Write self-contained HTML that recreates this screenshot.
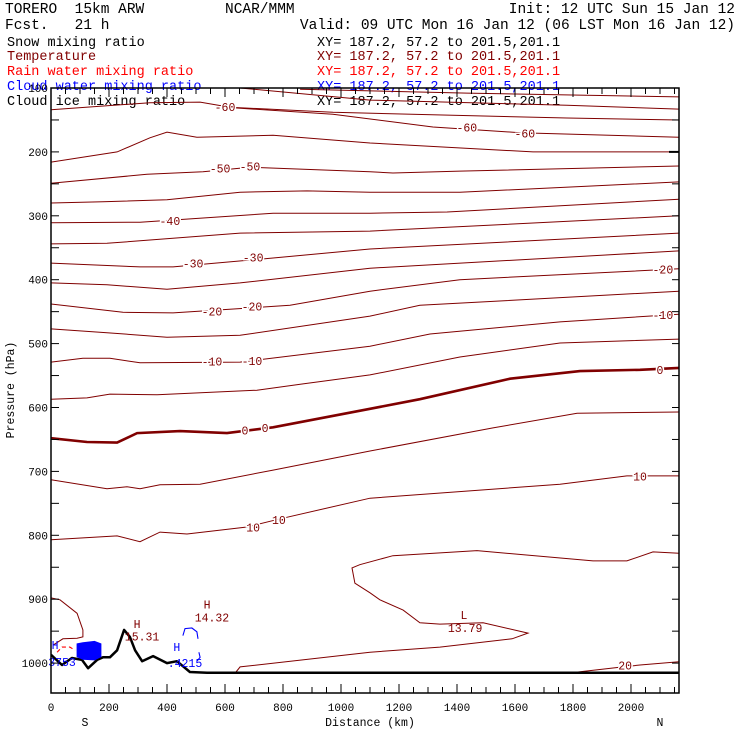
<!DOCTYPE html>
<html><head><meta charset="utf-8">
<style>
html,body{margin:0;padding:0;background:#fff;}
#wrap{position:relative;width:740px;height:740px;overflow:hidden;font-family:"Liberation Mono",monospace;}
.t{position:absolute;white-space:pre;font-size:14.5px;line-height:14px;}
.l{position:absolute;white-space:pre;font-size:13.5px;line-height:14px;}
svg{position:absolute;left:0;top:0;}
</style></head><body>
<div id="wrap">
<div class="t" style="left:5px;top:3px;">TORERO  15km ARW</div>
<div class="t" style="left:225px;top:3px;">NCAR/MMM</div>
<div class="t" style="right:5px;top:3px;">Init: 12 UTC Sun 15 Jan 12</div>
<div class="t" style="left:5px;top:19px;">Fcst.   21 h</div>
<div class="t" style="right:5px;top:19px;">Valid: 09 UTC Mon 16 Jan 12 (06 LST Mon 16 Jan 12)</div>
<div class="l" style="left:7px;top:37px;color:#000">Snow mixing ratio</div>
<div class="l" style="left:7px;top:51px;color:#800000">Temperature</div>
<div class="l" style="left:7px;top:66px;color:#ff0000">Rain water mixing ratio</div>
<div class="l" style="left:7px;top:81px;color:#0000ff">Cloud water mixing ratio</div>
<div class="l" style="left:7px;top:96px;color:#000">Cloud ice mixing ratio</div>
<div class="l" style="left:317px;top:37px;color:#000">XY= 187.2, 57.2 to 201.5,201.1</div>
<div class="l" style="left:317px;top:51px;color:#800000">XY= 187.2, 57.2 to 201.5,201.1</div>
<div class="l" style="left:317px;top:66px;color:#ff0000">XY= 187.2, 57.2 to 201.5,201.1</div>
<div class="l" style="left:317px;top:81px;color:#0000ff">XY= 187.2, 57.2 to 201.5,201.1</div>
<div class="l" style="left:317px;top:96px;color:#000">XY= 187.2, 57.2 to 201.5,201.1</div>
<svg id="chart" width="740" height="740"></svg>
</div>
<script>
// x ticks (km), y ticks (hPa)
const xTickLabels=[0,200,400,600,800,1000,1200,1400,1600,1800,2000];
const yTickLabels=[100,200,300,400,500,600,700,800,900,1000];
// temperature contours: [km, hPa] pairs
const c1=[[859,102],[1434,108],[2166,114]];
const c2=[[652,100],[1100,119],[1779,127],[2166,133]];
const c3=[[0,134],[341,123],[514,122],[617,130],[972,138],[1779,147],[2166,150]];
const c4=[[628,131],[972,141],[1317,161],[1617,170],[2166,177]];
const c5=[[0,216],[228,200],[341,178],[400,169],[503,177],[766,174],[1100,186],[1662,200],[2166,200]];
const c6=[[0,249],[331,235],[524,231],[686,224],[1100,231],[1179,233],[1410,230],[2166,222]];
const c7=[[0,280],[179,278],[400,275],[652,263],[883,261],[1100,263],[1410,263],[2166,247]];
const c8=[[0,311],[307,310],[410,307],[766,296],[1100,296],[1366,294],[2166,274]];
const c9=[[0,344],[193,343],[652,327],[1100,324],[2166,300]];
const c10=[[0,374],[307,380],[421,380],[766,366],[1100,352],[2166,327]];
const c11=[[0,405],[193,408],[400,415],[652,405],[1100,382],[2166,355]];
const c12=[[0,438],[248,451],[421,452],[824,440],[1100,418],[1410,400],[2166,383]];
const c13=[[0,477],[193,483],[400,490],[652,487],[1100,457],[1272,440],[2166,418]];
const c14=[[0,529],[110,523],[203,523],[307,530],[652,529],[1100,504],[1307,485],[1755,466],[2166,454]];
const c15=[[0,587],[124,585],[203,579],[366,580],[710,573],[869,563],[1100,549],[1410,521],[1755,499],[2166,493]];
const c16=[[0,648],[124,654],[228,655],[297,640],[445,637],[607,640],[766,631],[1100,602],[1272,587],[1583,555],[1824,543],[2031,541],[2166,538]];
const c17=[[0,713],[193,727],[262,724],[307,727],[376,721],[514,720],[766,698],[1100,668],[1524,632],[1814,609],[2166,607]];
const c18=[[0,807],[228,801],[307,810],[376,795],[469,798],[676,787],[783,775],[1100,742],[1755,720],[1986,707],[2166,707]];
const c19=[[2166,828],[2076,826],[1986,840],[1869,840],[1469,824],[1179,832],[1065,846],[1038,851],[1048,875],[1100,890],[1134,901],[1214,917],[1272,937],[1341,939],[1490,937],[1645,953],[1590,962],[1341,975],[1100,983],[652,1006],[638,1014]];
const c20=[[1817,1014],[1972,1006],[2031,1003],[2166,998]];
const c21=[[0,898],[31,901],[90,922],[110,948],[110,959],[90,961],[41,962],[7,972]];
const terrain=[[0,987],[38,1003],[72,992],[107,995],[128,1008],[159,995],[179,991],[203,991],[228,980],[252,948],[272,959],[290,980],[314,997],[352,989],[400,1000],[434,997],[479,1014],[538,1015],[572,1015],[2166,1015]];
const cloudA=[[455,957],[462,946],[486,945],[503,951],[507,962]];
const cloudB=[[510,983],[514,991],[503997/1000]];
cloudB[2]=[503,997];
const rainA=[[21,983],[38,975],[65,975],[83,980]];
const cloudBlob=[[90,970],[110,968],[150,966],[172,970],[172,990],[150,995],[110,994],[90,990]];
// contour labels: text, km, hPa
const labelText=["-60","-60","-60","-50","-50","-40","-30","-30","-20","-20","-20","-10","-10","-10","0","0","0","10","10","10","20"];
const labelKm=[600,1434,1634,583,686,410,490,697,555,693,2110,555,693,2110,669,738,2100,697,786,2031,1980];
const labelHPa=[130,162,171,226,223,308,375,365,450,442,384,528,527,455,636,632,541,788,776,708,1004];
const contours=[c1,c2,c3,c4,c5,c6,c7,c8,c9,c10,c11,c12,c13,c14,c15,c16,c17,c18,c19,c20,c21];
const contourNames=["isotherm-1","isotherm-2","isotherm-3","isotherm-minus60","isotherm-5","isotherm-minus50","isotherm-7","isotherm-minus40","isotherm-9","isotherm-minus30","isotherm-11","isotherm-minus20","isotherm-13","isotherm-minus10","isotherm-15","isotherm-0","isotherm-17","isotherm-10","isotherm-19","isotherm-20","isotherm-21"];

const L=51,R=679,T=88,B=693;
const X=km=>L+km*0.29;
const Y=p=>T+(p-100)*0.639;
const NS="http://www.w3.org/2000/svg";
const svg=document.getElementById('chart');
function mk(tag,attrs){const e=document.createElementNS(NS,tag);for(const k in attrs)e.setAttribute(k,attrs[k]);svg.appendChild(e);return e;}
function path(pts){return pts.map((p,i)=>(i?'L':'M')+X(p[0]).toFixed(1)+' '+Y(p[1]).toFixed(1)).join(' ');}

const clip=mk('clipPath',{id:'pc'});
const cr=document.createElementNS(NS,'rect');cr.setAttribute('x',L);cr.setAttribute('y',T);cr.setAttribute('width',R-L);cr.setAttribute('height',B-T);clip.appendChild(cr);

contours.forEach((c,i)=>{
  const e=mk('path',{d:path(c),fill:'none',stroke:'#800000','stroke-width':c===c16?2.6:1,'clip-path':'url(#pc)'});
  
  
});
let e=mk('path',{d:path(terrain),fill:'none',stroke:'#000','stroke-width':2.5,'stroke-linejoin':'round','clip-path':'url(#pc)'});


e=mk('path',{d:path(cloudA),fill:'none',stroke:'#0000ff','stroke-width':1.1});


e=mk('path',{d:path(cloudB),fill:'none',stroke:'#0000ff','stroke-width':1.1});


e=mk('path',{d:path(rainA),fill:'none',stroke:'#ff0000','stroke-width':1.1,'stroke-dasharray':'4 3'});


e=mk('path',{d:path(cloudBlob)+'Z',fill:'#0000ff',stroke:'#0000ff','stroke-width':1});



labelText.forEach((t,i)=>{
  const tx=mk('text',{x:X(labelKm[i]),y:Y(labelHPa[i])+4,'text-anchor':'middle','font-family':'Liberation Mono, monospace','font-size':11.5,fill:'#800000',stroke:'#fff','stroke-width':3,'paint-order':'stroke'});
  tx.textContent=t;
  
  
});
const extText=["H","14.32","H","15.31","L","13.79"];
const extKm=[538,555,297,314,1424,1428];
const extHPa=[908,929,939,958,925,945];
extText.forEach((t,i)=>{
  const tx=mk('text',{x:X(extKm[i]),y:Y(extHPa[i])+4,'text-anchor':'middle','font-family':'Liberation Mono, monospace','font-size':11.5,fill:'#800000'});
  tx.textContent=t;
  
  
});
const blueText=["H",".4215","H","3753"];
const blueKm=[434,462,14,38];
const blueHPa=[975,1000,972,998];
blueText.forEach((t,i)=>{
  const tx=mk('text',{x:X(blueKm[i]),y:Y(blueHPa[i])+4,'text-anchor':'middle','font-family':'Liberation Mono, monospace','font-size':11.5,fill:'#0000ff'});
  tx.textContent=t;
  
  
});

e=mk('rect',{x:L,y:T,width:R-L,height:B-T,fill:'none',stroke:'#000','stroke-width':1.5});


for(let k=0;k<=2166;k+=50){
  const big=k%200===0, x=X(k);
  let t1=mk('line',{x1:x,y1:B,x2:x,y2:B-(big?9:6),stroke:'#000','stroke-width':1});
  
  
  let t2=mk('line',{x1:x,y1:T,x2:x,y2:T+(big?9:6),stroke:'#000','stroke-width':1});
  
  
}
xTickLabels.forEach(v=>{
  const tx=mk('text',{x:X(v),y:B+18,'text-anchor':'middle','font-family':'Liberation Mono, monospace','font-size':11,fill:'#000'});
  tx.textContent=v;
  
  
});
for(let p=100;p<=1047;p+=50){
  const y=Y(p);
  let t1=mk('line',{x1:L,y1:y,x2:L+8,y2:y,stroke:'#000','stroke-width':1});
  
  
  let t2=mk('line',{x1:R,y1:y,x2:R-(p===200?10:7),y2:y,stroke:'#000','stroke-width':p===200?2:1});
  
  
}
yTickLabels.forEach(v=>{
  const tx=mk('text',{x:L-3,y:Y(v)+4,'text-anchor':'end','font-family':'Liberation Mono, monospace','font-size':11,fill:'#000'});
  tx.textContent=v;
  
  
});
let tx=mk('text',{x:370,y:726,'text-anchor':'middle','font-family':'Liberation Mono, monospace','font-size':11.5,fill:'#000'});
tx.textContent='Distance (km)';


tx=mk('text',{x:85,y:726,'text-anchor':'middle','font-family':'Liberation Mono, monospace','font-size':11.5,fill:'#000'});
tx.textContent='S';


tx=mk('text',{x:660,y:726,'text-anchor':'middle','font-family':'Liberation Mono, monospace','font-size':11.5,fill:'#000'});
tx.textContent='N';


tx=mk('text',{x:14,y:390,'text-anchor':'middle','font-family':'Liberation Mono, monospace','font-size':11.5,fill:'#000',transform:'rotate(-90 14 390)'});
tx.textContent='Pressure (hPa)';


</script>
</body></html>
